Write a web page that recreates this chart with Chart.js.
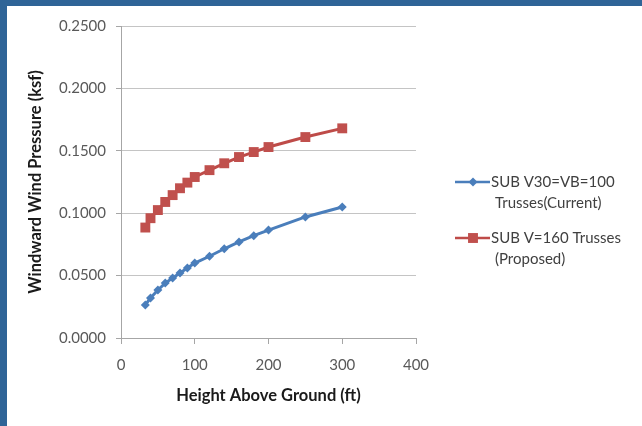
<!DOCTYPE html>
<html>
<head>
<meta charset="utf-8">
<script src="https://cdn.jsdelivr.net/npm/chart.js@4/dist/chart.umd.min.js"></script>
<style>
  body { margin: 0; background: #fff; }
  #wrap { width: 635px; height: 420px; border-top: 6px solid #2f6497; border-left: 7px solid #2f6497; background: #fff; }
</style>
</head>
<body>
<div id="wrap"><canvas id="chart" width="635" height="420"></canvas></div>
<script>
// heights (ft) and windward pressures (ksf)
var heights = [33, 40, 50, 60, 70, 80, 90, 100, 120, 140, 160, 180, 200, 250, 300];
var currentPressure = [0.0265, 0.032, 0.0385, 0.044, 0.048, 0.052, 0.056, 0.060, 0.0655, 0.0715, 0.077, 0.082, 0.0865, 0.097, 0.105];
var proposedPressure = [0.0885, 0.096, 0.1025, 0.109, 0.1145, 0.120, 0.1245, 0.129, 0.1345, 0.140, 0.145, 0.149, 0.153, 0.161, 0.168];
var seriesNames = [['SUB V30=VB=100', 'Trusses(Current)'], ['SUB V=160 Trusses', '(Proposed)']];
var xTicks = [0, 100, 200, 300, 400];
var yTicks = [0, 0.05, 0.1, 0.15, 0.2, 0.25];

var FONT = 'Lato, "Open Sans", sans-serif';

function points(ys) {
    return heights.map(function (h, i) { return {x: h, y: ys[i]}; });
}

// legend drawn by hand so the labels can wrap onto two lines like Excel
var sideLegend = {
    id: 'sideLegend',
    afterDraw: function (chart) {
        var ctx = chart.ctx;
        var rows = [176, 232];
        ctx.save();
        chart.data.datasets.forEach(function (ds, i) {
            var y = rows[i];
            ctx.strokeStyle = ds.borderColor;
            ctx.lineWidth = 2.5;
            ctx.beginPath();
            ctx.moveTo(448, y);
            ctx.lineTo(483, y);
            ctx.stroke();
            ctx.fillStyle = ds.backgroundColor;
            Chart.helpers.drawPoint(ctx, {pointStyle: ds.pointStyle, radius: ds.pointRadius, borderWidth: 0}, 466, y);
            ctx.fillStyle = '#404040';
            ctx.font = '15px ' + FONT;
            ctx.textBaseline = 'middle';
            ctx.textAlign = 'left';
            seriesNames[i].forEach(function (t, j) {
                ctx.fillText(t, j === 0 ? 484 : 488, y + j * 21);
            });
        });
        ctx.restore();
    }
};

new Chart(document.getElementById('chart'), {
    type: 'scatter',
    data: {
        datasets: [{
            label: seriesNames[0].join(' '),
            data: points(currentPressure),
            showLine: true,
            borderColor: '#4a7ebb',
            backgroundColor: '#4a7ebb',
            borderWidth: 3,
            pointStyle: 'rectRot',
            pointRadius: 4.5,
            pointBorderWidth: 0
        }, {
            label: seriesNames[1].join(' '),
            data: points(proposedPressure),
            showLine: true,
            borderColor: '#be4b48',
            backgroundColor: '#c0504d',
            borderWidth: 3,
            pointStyle: 'rect',
            pointRadius: 7,
            pointBorderWidth: 0
        }]
    },
    options: {
        responsive: false,
        animation: false,
        layout: {padding: {left: 14, top: 20, right: 226, bottom: 14}},
        plugins: {legend: {display: false}, tooltip: {enabled: false}},
        scales: {
            x: {
                type: 'linear',
                min: 0, max: 400,
                afterBuildTicks: function (s) { s.ticks = xTicks.map(function (v) { return {value: v}; }); },
                afterFit: function (s) { s.height = 74; },
                grid: {drawOnChartArea: false, tickColor: '#a6a6a6', tickLength: 6},
                border: {color: '#a6a6a6'},
                ticks: {color: '#595959', font: {family: FONT, size: 15}, padding: 12},
                title: {display: true, text: 'Height Above Ground (ft)', color: '#1a1a1a',
                    font: {family: FONT, size: 16.5, weight: 'bold'}, padding: {top: 4, bottom: 6}}
            },
            y: {
                min: 0, max: 0.25,
                afterBuildTicks: function (s) { s.ticks = yTicks.map(function (v) { return {value: v}; }); },
                afterFit: function (s) { s.width = 100; },
                grid: {color: '#c4c4c4', tickColor: '#a6a6a6', tickLength: 5},
                border: {color: '#a6a6a6'},
                ticks: {color: '#595959', font: {family: FONT, size: 15}, padding: 10,
                    callback: function (v) { return v.toFixed(4); }},
                title: {display: true, text: 'Windward Wind Pressure (ksf)', color: '#1a1a1a',
                    font: {family: FONT, size: 16.5, weight: 'bold'}, padding: {top: 5, bottom: 0}}
            }
        }
    },
    plugins: [sideLegend]
});
</script>
</body>
</html>
